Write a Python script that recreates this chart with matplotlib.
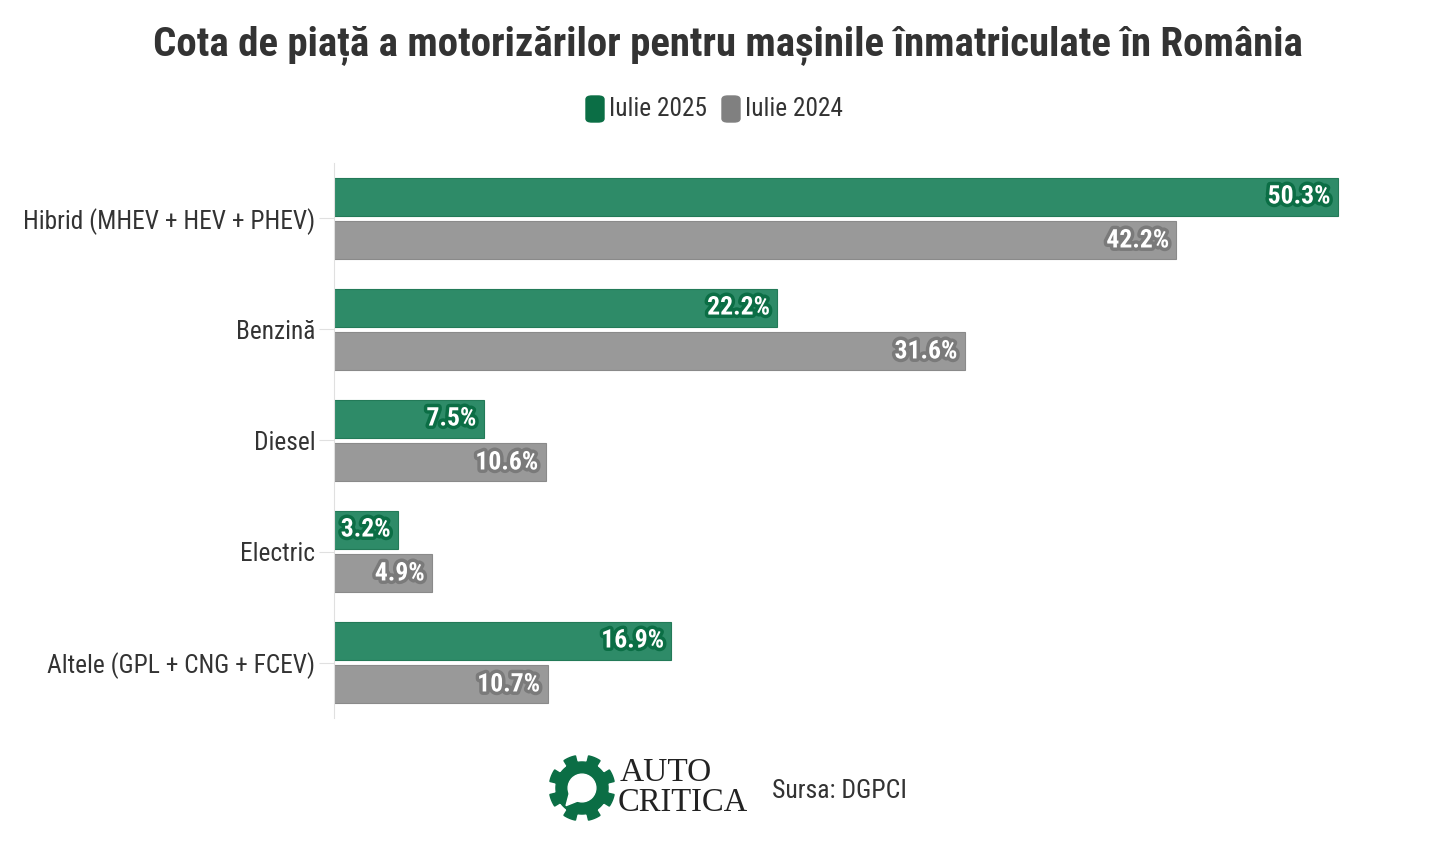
import matplotlib.pyplot as plt
import matplotlib.patheffects as pe
from matplotlib.patches import FancyBboxPatch, Circle, Polygon
import numpy as np

categories = ["Hibrid (MHEV + HEV + PHEV)", "Benzină", "Diesel", "Electric", "Altele (GPL + CNG + FCEV)"]
iulie_2025 = [50.3, 22.2, 7.5, 3.2, 16.9]
iulie_2024 = [42.2, 31.6, 10.6, 4.9, 10.7]
series_names = ["Iulie 2025", "Iulie 2024"]

FONT = ["Roboto Condensed", "Roboto", "DejaVu Sans"]
plt.rcParams['font.family'] = FONT

green_bar = "#2e8b68"
green_dark = "#0b6e45"
gray_bar = "#999999"
gray_dark = "#7a7a7a"
text_col = "#333333"

W, H = 1456, 846
fig = plt.figure(figsize=(W / 100, H / 100), dpi=100)

# main axes: x from px 334 to 1400, y from px 163 to 718
ax = fig.add_axes([334 / W, 1 - 718 / H, (1400 - 334) / W, (718 - 163) / H])
y = np.arange(len(categories))
bh = 0.342
off = 0.198
ax.barh(y - off, iulie_2025, height=bh, color=green_bar, edgecolor="#237a58", linewidth=0.8)
ax.barh(y + off, iulie_2024, height=bh, color=gray_bar, edgecolor="#8a8a8a", linewidth=0.8)
ax.set_xlim(0, (1400 - 334) / ((1338 - 334) / 50.3))
ax.set_ylim(len(categories) - 0.5, -0.5)

for yi, v in zip(y, iulie_2025):
    ax.text(v - 0.35, yi - off, f"{v}%", ha="right", va="center", color="white",
            fontsize=18.5, fontweight="bold",
            path_effects=[pe.withStroke(linewidth=5, foreground=green_dark)])
for yi, v in zip(y, iulie_2024):
    ax.text(v - 0.35, yi + off, f"{v}%", ha="right", va="center", color="white",
            fontsize=18.5, fontweight="bold",
            path_effects=[pe.withStroke(linewidth=5, foreground=gray_dark)])

ax.set_yticks(y)
ax.set_yticklabels(categories, fontsize=18.3, color=text_col)
ax.tick_params(axis="y", length=11, color="#e0e0e0", pad=2.5)
ax.set_xticks([])
for s in ["top", "right", "bottom"]:
    ax.spines[s].set_visible(False)
ax.spines["left"].set_color("#e0e0e0")

# title
fig.text(0.5, 1 - 45 / H, "Cota de piață a motorizărilor pentru mașinile înmatriculate în România",
         ha="center", va="center", fontsize=29.4, fontweight="bold", color=text_col)

# legend
lx = [586, 722]
for x0, name, c in zip(lx, series_names, [green_dark, "#808080"]):
    fig.patches.append(FancyBboxPatch((x0 / W, 1 - 122 / H), 18 / W, 26 / H,
                                      boxstyle="round,pad=0,rounding_size=0.004",
                                      transform=fig.transFigure, color=c))
    fig.text((x0 + 23) / W, 1 - 109 / H, name, ha="left", va="center",
             fontsize=18.3, color=text_col)

# logo gear
lax = fig.add_axes([540 / W, 1 - 830 / H, 84 / W, 84 / H])
lax.set_xlim(-1, 1)
lax.set_ylim(-1, 1)
lax.set_aspect("equal")
lax.axis("off")
ang = np.linspace(0, 2 * np.pi, 721)
n_teeth = 8
phase = (ang * n_teeth / (2 * np.pi)) % 1
r = np.where(phase < 0.5, 0.78, 0.62)
lax.add_patch(Polygon(np.c_[r * np.cos(ang + 0.2), r * np.sin(ang + 0.2)], color=green_dark))
lax.add_patch(Circle((0, 0), 0.33, color="white"))
lax.add_patch(Polygon([[-0.3, -0.12], [-0.38, -0.42], [-0.08, -0.3]], color="white"))

fig.text(620 / W, 1 - 773 / H, "AUTO", ha="left", va="center", fontsize=24,
         family=["Liberation Serif", "DejaVu Serif"], color="#222222")
fig.text(618 / W, 1 - 803 / H, "CRITICA", ha="left", va="center", fontsize=23.5,
         family=["Liberation Serif", "DejaVu Serif"], color="#222222")
fig.text(772 / W, 1 - 791 / H, "Sursa: DGPCI", ha="left", va="center", fontsize=18.5,
         color=text_col)

fig.savefig("out.png", dpi=100, facecolor="white")
